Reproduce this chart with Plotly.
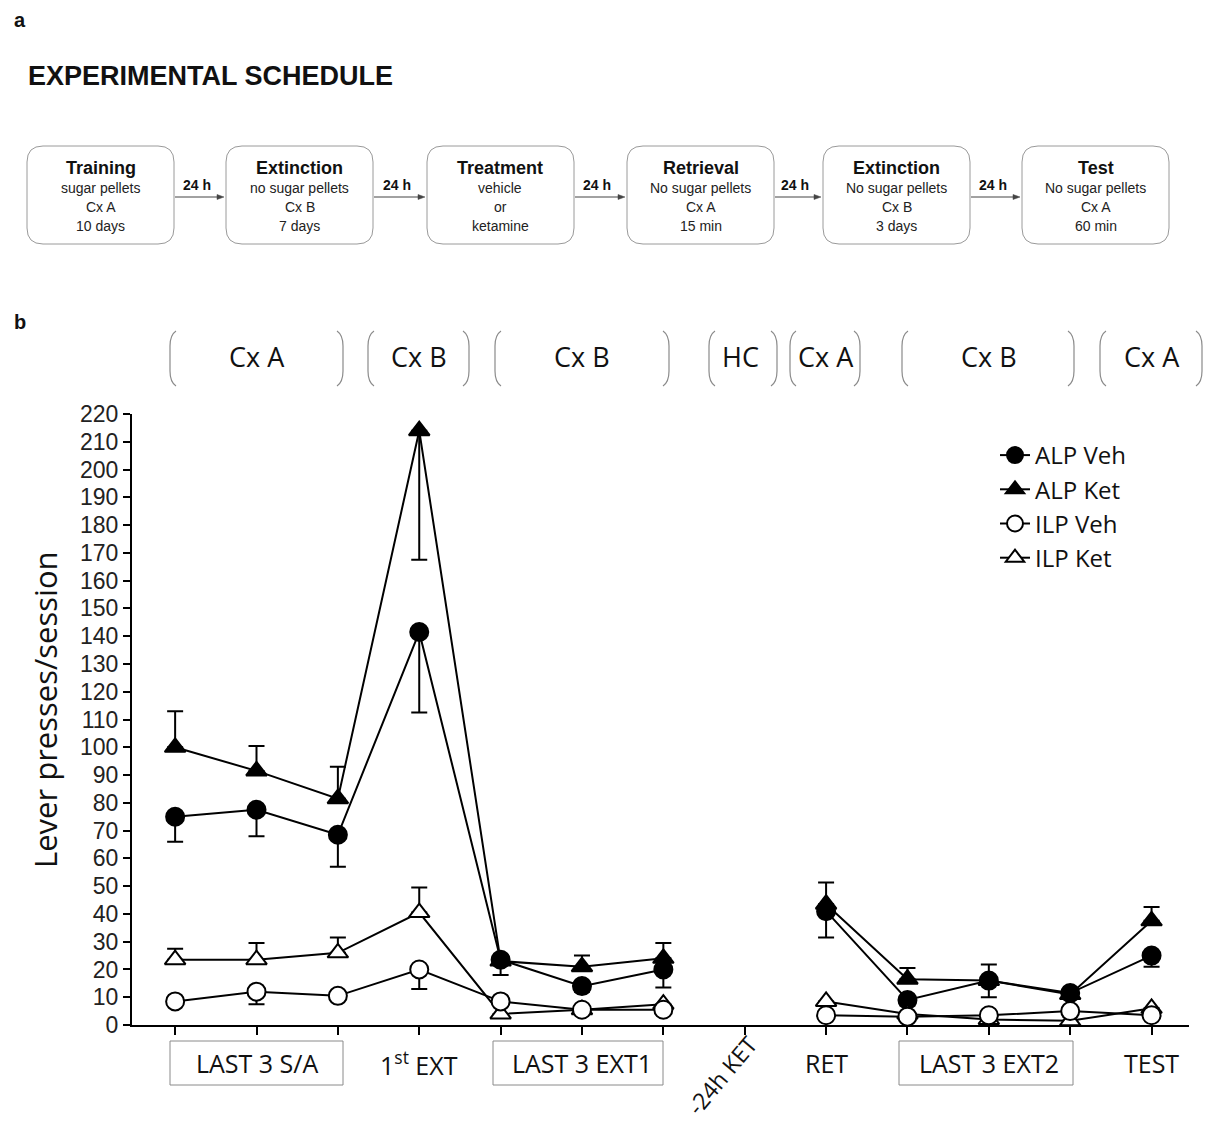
import plotly.graph_objects as go

# ---------------- data ----------------
categories = ["S/A 1", "S/A 2", "S/A 3", "1st EXT", "EXT1 1", "EXT1 2", "EXT1 3",
              "-24h KET", "RET", "EXT2 1", "EXT2 2", "EXT2 3", "TEST"]

alp_veh = [75, 77.5, 68.5, 141.5, 23.5, 14, 20, None, 41, 9, 16, 11.5, 25]
alp_veh_err_minus = [9, 9.5, 11.5, 29, 5.5, 2, 6.5, 0, 9.5, 2, 6, 2, 4]

alp_ket = [100, 91.5, 81.5, 214, 23, 21, 24, None, 43.5, 16.5, 16, 11, 37.5]
alp_ket_err_plus = [13, 9, 11.5, 0, 0, 4, 5.5, 0, 7.8, 4, 5.8, 0, 5]
alp_ket_err_minus = [0, 0, 0, 46.5, 0, 0, 0, 0, 0, 0, 0, 0, 0]

ilp_veh = [8.5, 12, 10.5, 20, 8.5, 5.5, 5.5, None, 3.5, 3, 3.5, 5, 3.5]
ilp_veh_err_minus = [0, 4.5, 0, 7, 0, 0, 0, 0, 0, 0, 0, 0, 0]

ilp_ket = [23.5, 23.5, 26, 40.5, 4, 5.5, 7.5, None, 8.5, 4, 2, 1.5, 6]
ilp_ket_err_plus = [4, 6, 5.5, 9, 0, 0, 0, 0, 0, 0, 0, 0, 0]

y_ticks = list(range(0, 221, 10))

schedule_titles = ["Training", "Extinction", "Treatment", "Retrieval", "Extinction", "Test"]
schedule_lines = [
    ["sugar pellets", "Cx A", "10 days"],
    ["no sugar pellets", "Cx B", "7 days"],
    ["vehicle", "or", "ketamine"],
    ["No sugar pellets", "Cx A", "15 min"],
    ["No sugar pellets", "Cx B", "3 days"],
    ["No sugar pellets", "Cx A", "60 min"],
]
gap_label = "24 h"

context_labels = ["Cx A", "Cx B", "Cx B", "HC", "Cx A", "Cx B", "Cx A"]
phase_labels = ["LAST 3 S/A", "1<sup>st</sup> EXT", "LAST 3 EXT1", "-24h KET",
                "RET", "LAST 3 EXT2", "TEST"]

# ---------------- layout helpers ----------------
W, H = 1206, 1129
L, R, T, B = 132, 1189, 414, 1025


def px(x):
    return (x - L) / (R - L)


def py(y):
    return (B - y) / (B - T)


fig = go.Figure()

SANS = "Open Sans, Noto Sans, sans-serif"
ARIAL = "Liberation Sans, Arial, sans-serif"


def add_series(name, y, marker_symbol, fill, plus, minus, rank):
    fig.add_trace(go.Scatter(
        x=categories, y=y, name=name, mode="lines+markers",
        line=dict(color="black", width=2),
        marker=dict(symbol=marker_symbol, size=18, color=fill,
                    line=dict(color="black", width=2)),
        error_y=dict(type="data", symmetric=False, array=plus, arrayminus=minus,
                     color="black", thickness=2, width=8),
        connectgaps=False, cliponaxis=False, legendrank=rank,
    ))


zeros = [0] * len(categories)
add_series("ALP Ket", alp_ket, "triangle-up", "black", alp_ket_err_plus, alp_ket_err_minus, 2)
add_series("ALP Veh", alp_veh, "circle", "black", zeros, alp_veh_err_minus, 1)
add_series("ILP Ket", ilp_ket, "triangle-up", "white", ilp_ket_err_plus, zeros, 4)
add_series("ILP Veh", ilp_veh, "circle", "white", zeros, ilp_veh_err_minus, 3)

shapes = []
annotations = []


def ptext(text, x, y, size, family=ARIAL, color="#111", xanchor="center", angle=0):
    annotations.append(dict(text=text, x=px(x), y=py(y), xref="paper", yref="paper",
                            xanchor=xanchor, yanchor="middle", showarrow=False,
                            textangle=angle, font=dict(family=family, size=size, color=color)))


# panel letters and heading
ptext("<b>a</b>", 12, 20, 20, xanchor="left")
ptext("<b>b</b>", 12, 322, 20, xanchor="left")
ptext("<b>EXPERIMENTAL SCHEDULE</b>", 26, 76, 27, xanchor="left")


def rrect(x0, y0, x1, y1, r):
    return (f"M {px(x0 + r)},{py(y0)} L {px(x1 - r)},{py(y0)} "
            f"Q {px(x1)},{py(y0)} {px(x1)},{py(y0 + r)} L {px(x1)},{py(y1 - r)} "
            f"Q {px(x1)},{py(y1)} {px(x1 - r)},{py(y1)} L {px(x0 + r)},{py(y1)} "
            f"Q {px(x0)},{py(y1)} {px(x0)},{py(y1 - r)} L {px(x0)},{py(y0 + r)} "
            f"Q {px(x0)},{py(y0)} {px(x0 + r)},{py(y0)} Z")


box_left = [27, 226, 427, 627, 823, 1022]
box_w = 147
for i, bx in enumerate(box_left):
    shapes.append(dict(type="path", path=rrect(bx, 146, bx + box_w, 244, 16),
                       xref="paper", yref="paper", line=dict(color="#9a9a9a", width=1)))
    cx = bx + box_w / 2
    ptext(f"<b>{schedule_titles[i]}</b>", cx, 168, 18)
    for j, line in enumerate(schedule_lines[i]):
        ptext(line, cx, 188 + 19 * j, 14, color="#222")
    if i < len(box_left) - 1:
        x_start = bx + box_w + 1
        x_end = box_left[i + 1] - 2
        shapes.append(dict(type="line", x0=px(x_start), x1=px(x_end - 5), y0=py(197), y1=py(197),
                           xref="paper", yref="paper", line=dict(color="#444", width=1)))
        shapes.append(dict(type="path",
                           path=f"M {px(x_end)},{py(197)} L {px(x_end - 7)},{py(194.5)} "
                                f"L {px(x_end - 7)},{py(199.5)} Z",
                           xref="paper", yref="paper", fillcolor="#444",
                           line=dict(color="#444", width=0.5)))
        ptext(f"<b>{gap_label}</b>", (x_start + x_end) / 2 - 3, 185, 14)

# context brackets
bracket_pairs = [(170, 343), (368, 469), (495, 669), (709, 777), (790, 860), (902, 1074), (1100, 1202)]
context_x = [1, 3, 5, 7, 8, 10, 12]
context_dx = [0, 0, 0, -0.05, 0, 0, 0]


def lparen(x):
    return (f"M {px(x + 6)},{py(331)} Q {px(x)},{py(335)} {px(x)},{py(346)} "
            f"L {px(x)},{py(371)} Q {px(x)},{py(382)} {px(x + 6)},{py(386)}")


def rparen(x):
    return (f"M {px(x - 6)},{py(331)} Q {px(x)},{py(335)} {px(x)},{py(346)} "
            f"L {px(x)},{py(371)} Q {px(x)},{py(382)} {px(x - 6)},{py(386)}")


for (a, b_), lab, ci, dx in zip(bracket_pairs, context_labels, context_x, context_dx):
    shapes.append(dict(type="path", path=lparen(a), xref="paper", yref="paper",
                       line=dict(color="#8a8a8a", width=1.2)))
    shapes.append(dict(type="path", path=rparen(b_), xref="paper", yref="paper",
                       line=dict(color="#8a8a8a", width=1.2)))
    annotations.append(dict(text=lab, x=ci + dx, y=py(357), xref="x", yref="paper",
                            xanchor="center", yanchor="middle",
                            showarrow=False, font=dict(family=SANS, size=27, color="#111")))

# phase labels under x axis
phase_x = [1, 3, 5, 6.72, 8, 10, 12]
for lab, xi in zip(phase_labels, phase_x):
    if "KET" in lab:
        annotations.append(dict(text=lab, x=xi, y=py(1075), xref="x", yref="paper",
                                xanchor="center", yanchor="middle",
                                showarrow=False, textangle=-50,
                                font=dict(family=SANS, size=23, color="#111")))
    else:
        annotations.append(dict(text=lab, x=xi, y=py(1063), xref="x", yref="paper",
                                xanchor="center", yanchor="middle",
                                showarrow=False, font=dict(family=SANS, size=25, color="#111")))

for (a, b_) in [(170, 343), (493, 663), (899, 1073)]:
    shapes.append(dict(type="rect", x0=px(a), x1=px(b_), y0=py(1041), y1=py(1085),
                       xref="paper", yref="paper", line=dict(color="#8a8a8a", width=1)))

# y-axis title
ptext("Lever presses/session", 45, 710, 31, family=SANS, angle=-90)

fig.update_layout(
    width=W, height=H, autosize=False,
    margin=dict(l=L, r=W - R, t=T, b=H - B, pad=0),
    paper_bgcolor="white", plot_bgcolor="white",
    shapes=shapes, annotations=annotations,
    showlegend=True,
    legend=dict(x=px(995), y=py(433), xanchor="left", yanchor="top",
                font=dict(family=SANS, size=24, color="#111"),
                bgcolor="rgba(0,0,0,0)", itemwidth=30, tracegroupgap=0),
    xaxis=dict(type="category", categoryarray=categories, range=[-0.53, 12.46],
               showticklabels=False, ticks="outside", ticklen=8, tickwidth=2,
               tickcolor="black", showline=True, linewidth=2, linecolor="black",
               showgrid=False, zeroline=False),
    yaxis=dict(range=[0, 220], tickvals=y_ticks, ticks="outside", ticklen=7, tickwidth=2,
               tickcolor="black", showline=True, linewidth=2, linecolor="black",
               showgrid=False, zeroline=False,
               tickfont=dict(family=ARIAL, size=23, color="#222")),
)

fig.write_html("out.html")
